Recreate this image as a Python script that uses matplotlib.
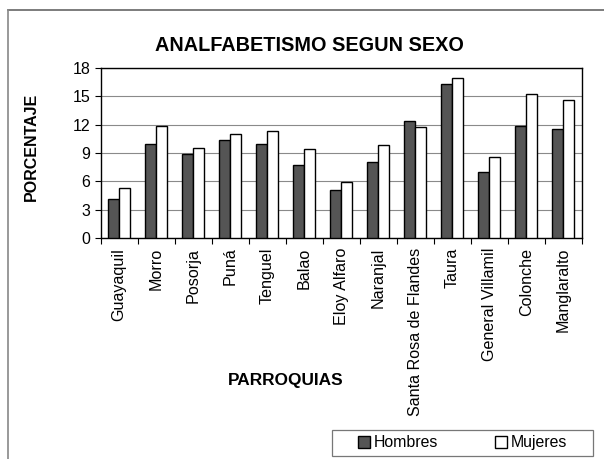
import matplotlib.pyplot as plt
from matplotlib.lines import Line2D
from matplotlib.patches import Rectangle
import numpy as np

plt.rcParams['font.family'] = ['Liberation Sans', 'DejaVu Sans']

parroquias = ['Guayaquil', 'Morro', 'Posorja', 'Puná', 'Tenguel', 'Balao',
              'Eloy Alfaro', 'Naranjal', 'Santa Rosa de Flandes', 'Taura',
              'General Villamil', 'Colonche', 'Manglaralto']
hombres = [4.1, 10.0, 8.9, 10.4, 10.0, 7.7, 5.1, 8.0, 12.4, 16.3, 7.0, 11.9, 11.5]
mujeres = [5.3, 11.9, 9.5, 11.0, 11.3, 9.4, 5.9, 9.8, 11.7, 16.9, 8.6, 15.2, 14.6]
yticks = [0, 3, 6, 9, 12, 15, 18]

fig = plt.figure(figsize=(6.04, 4.59), dpi=100)
ax = fig.add_axes([0.1667, 0.4815, 0.7964, 0.3705])

x = np.arange(len(parroquias))
w = 0.29
ax.bar(x - w / 2, hombres, w, color='#555555', edgecolor='black', linewidth=1.0,
       label='Hombres', zorder=3)
ax.bar(x + w / 2, mujeres, w, color='white', edgecolor='black', linewidth=1.0,
       label='Mujeres', zorder=3)

ax.set_xlim(-0.5, len(parroquias) - 0.5)
ax.set_ylim(0, 18)
ax.set_yticks(yticks)
ax.tick_params(axis='y', labelsize=11.5, length=4, width=0.8)
ax.yaxis.grid(True, color='#8a8a8a', linewidth=0.8, zorder=0)

# ticks between categories, labels centered on categories
ax.set_xticks(np.arange(len(parroquias) + 1) - 0.5)
ax.set_xticklabels([])
ax.set_xticks(x, minor=True)
ax.set_xticklabels(parroquias, minor=True, rotation=90, fontsize=11.6)
ax.tick_params(axis='x', which='major', length=4, width=0.8)
ax.tick_params(axis='x', which='minor', length=0, pad=7)

for s in ax.spines.values():
    s.set_linewidth(1.0)

fig.text(0.513, 0.9, 'ANALFABETISMO SEGUN SEXO', ha='center', va='center',
         fontsize=14.3, fontweight='bold')
fig.text(0.052, 0.68, 'PORCENTAJE', ha='center', va='center', rotation=90,
         fontsize=11.5, fontweight='bold')
fig.text(0.473, 0.172, 'PARROQUIAS', ha='center', va='center',
         fontsize=12.4, fontweight='bold')

# legend box
fig.add_artist(Rectangle((332 / 604, 1 - 456 / 459), 261 / 604, 26 / 459,
                         transform=fig.transFigure, fill=False,
                         edgecolor='#777777', lw=0.9))
fig.legend(loc='center', bbox_to_anchor=(0.7657, 0.0349), ncol=2,
           fontsize=11.4, frameon=False,
           handlelength=0.75, handleheight=0.75, columnspacing=3.6,
           handletextpad=0.25, borderpad=0.2)

# page border
fig.add_artist(Line2D([8 / 604, 1], [1 - 10 / 459, 1 - 10 / 459], color='#666666', lw=1.2))
fig.add_artist(Line2D([8 / 604, 8 / 604], [0, 1 - 10 / 459], color='#888888', lw=1.2))

fig.savefig('out.png', dpi=100)
